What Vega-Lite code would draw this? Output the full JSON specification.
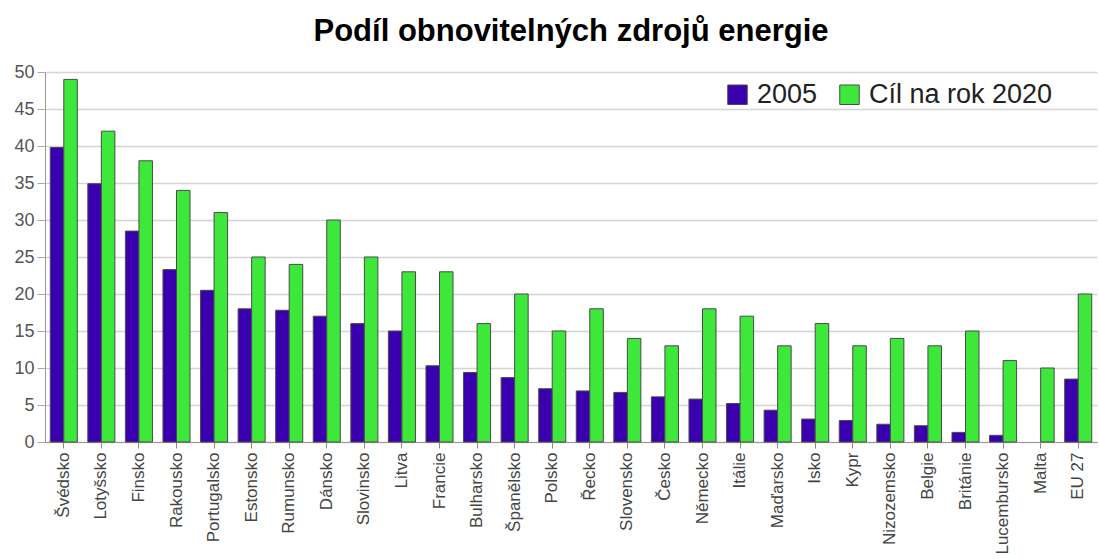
{
  "$schema": "https://vega.github.io/schema/vega-lite/v6.json",
  "width": 1052,
  "height": 370,
  "autosize": "none",
  "padding": {"left": 45, "top": 72, "right": 2, "bottom": 117},
  "background": "white",
  "title": {
    "text": "Podíl obnovitelných zdrojů energie",
    "font": "Liberation Sans",
    "fontSize": 31,
    "fontWeight": "bold",
    "color": "#000000",
    "anchor": "middle",
    "offset": 15
  },
  "data": {
    "values": [
      {"country": "Švédsko", "series": "2005", "value": 39.8},
      {"country": "Švédsko", "series": "Cíl na rok 2020", "value": 49},
      {"country": "Lotyšsko", "series": "2005", "value": 34.9},
      {"country": "Lotyšsko", "series": "Cíl na rok 2020", "value": 42},
      {"country": "Finsko", "series": "2005", "value": 28.5},
      {"country": "Finsko", "series": "Cíl na rok 2020", "value": 38},
      {"country": "Rakousko", "series": "2005", "value": 23.3},
      {"country": "Rakousko", "series": "Cíl na rok 2020", "value": 34},
      {"country": "Portugalsko", "series": "2005", "value": 20.5},
      {"country": "Portugalsko", "series": "Cíl na rok 2020", "value": 31},
      {"country": "Estonsko", "series": "2005", "value": 18.0},
      {"country": "Estonsko", "series": "Cíl na rok 2020", "value": 25},
      {"country": "Rumunsko", "series": "2005", "value": 17.8},
      {"country": "Rumunsko", "series": "Cíl na rok 2020", "value": 24},
      {"country": "Dánsko", "series": "2005", "value": 17.0},
      {"country": "Dánsko", "series": "Cíl na rok 2020", "value": 30},
      {"country": "Slovinsko", "series": "2005", "value": 16.0},
      {"country": "Slovinsko", "series": "Cíl na rok 2020", "value": 25},
      {"country": "Litva", "series": "2005", "value": 15.0},
      {"country": "Litva", "series": "Cíl na rok 2020", "value": 23},
      {"country": "Francie", "series": "2005", "value": 10.3},
      {"country": "Francie", "series": "Cíl na rok 2020", "value": 23},
      {"country": "Bulharsko", "series": "2005", "value": 9.4},
      {"country": "Bulharsko", "series": "Cíl na rok 2020", "value": 16},
      {"country": "Španělsko", "series": "2005", "value": 8.7},
      {"country": "Španělsko", "series": "Cíl na rok 2020", "value": 20},
      {"country": "Polsko", "series": "2005", "value": 7.2},
      {"country": "Polsko", "series": "Cíl na rok 2020", "value": 15},
      {"country": "Řecko", "series": "2005", "value": 6.9},
      {"country": "Řecko", "series": "Cíl na rok 2020", "value": 18},
      {"country": "Slovensko", "series": "2005", "value": 6.7},
      {"country": "Slovensko", "series": "Cíl na rok 2020", "value": 14},
      {"country": "Česko", "series": "2005", "value": 6.1},
      {"country": "Česko", "series": "Cíl na rok 2020", "value": 13},
      {"country": "Německo", "series": "2005", "value": 5.8},
      {"country": "Německo", "series": "Cíl na rok 2020", "value": 18},
      {"country": "Itálie", "series": "2005", "value": 5.2},
      {"country": "Itálie", "series": "Cíl na rok 2020", "value": 17},
      {"country": "Maďarsko", "series": "2005", "value": 4.3},
      {"country": "Maďarsko", "series": "Cíl na rok 2020", "value": 13},
      {"country": "Isko", "series": "2005", "value": 3.1},
      {"country": "Isko", "series": "Cíl na rok 2020", "value": 16},
      {"country": "Kypr", "series": "2005", "value": 2.9},
      {"country": "Kypr", "series": "Cíl na rok 2020", "value": 13},
      {"country": "Nizozemsko", "series": "2005", "value": 2.4},
      {"country": "Nizozemsko", "series": "Cíl na rok 2020", "value": 14},
      {"country": "Belgie", "series": "2005", "value": 2.2},
      {"country": "Belgie", "series": "Cíl na rok 2020", "value": 13},
      {"country": "Británie", "series": "2005", "value": 1.3},
      {"country": "Británie", "series": "Cíl na rok 2020", "value": 15},
      {"country": "Lucembursko", "series": "2005", "value": 0.9},
      {"country": "Lucembursko", "series": "Cíl na rok 2020", "value": 11},
      {"country": "Malta", "series": "2005", "value": null},
      {"country": "Malta", "series": "Cíl na rok 2020", "value": 10},
      {"country": "EU 27", "series": "2005", "value": 8.5},
      {"country": "EU 27", "series": "Cíl na rok 2020", "value": 20}
    ]
  },
  "mark": {"type": "bar", "stroke": "#4a4a4a", "strokeWidth": 1},
  "encoding": {
    "x": {
      "field": "country",
      "type": "nominal",
      "sort": null,
      "title": null,
      "scale": {"paddingInner": 0.28, "paddingOuter": 0.14},
      "axis": {
        "labelAngle": -90,
        "labelFont": "Liberation Sans",
        "labelFontSize": 17,
        "labelColor": "#444444",
        "labelPadding": 4,
        "labelLimit": 300,
        "tickColor": "#888888",
        "tickSize": 6,
        "domainColor": "#999999",
        "grid": false
      }
    },
    "xOffset": {"field": "series", "type": "nominal", "scale": {"domain": ["2005", "Cíl na rok 2020"], "paddingInner": 0, "paddingOuter": 0}},
    "y": {
      "field": "value",
      "type": "quantitative",
      "title": null,
      "scale": {"domain": [0, 50], "nice": false},
      "axis": {
        "values": [0, 5, 10, 15, 20, 25, 30, 35, 40, 45, 50],
        "labelFont": "Liberation Sans",
        "labelFontSize": 18,
        "labelColor": "#555555",
        "labelPadding": 3,
        "tickColor": "#aaaaaa",
        "tickSize": 8,
        "domainColor": "#999999",
        "gridColor": "#d4d4d4",
        "gridWidth": 1.5
      }
    },
    "color": {
      "field": "series",
      "type": "nominal",
      "scale": {"domain": ["2005", "Cíl na rok 2020"], "range": ["#3a00b0", "#3ee83a"]},
      "legend": {
        "title": null,
        "orient": "none",
        "legendX": 679,
        "legendY": 9,
        "direction": "horizontal",
        "symbolType": "square",
        "symbolSize": 380,
        "symbolStrokeColor": "#4a4a4a",
        "symbolStrokeWidth": 1,
        "labelFont": "Liberation Sans",
        "labelFontSize": 27,
        "labelLimit": 400,
        "labelColor": "#222222",
        "labelOffset": 6,
        "columnPadding": 18
      }
    }
  },
  "config": {"view": {"stroke": null}}
}
